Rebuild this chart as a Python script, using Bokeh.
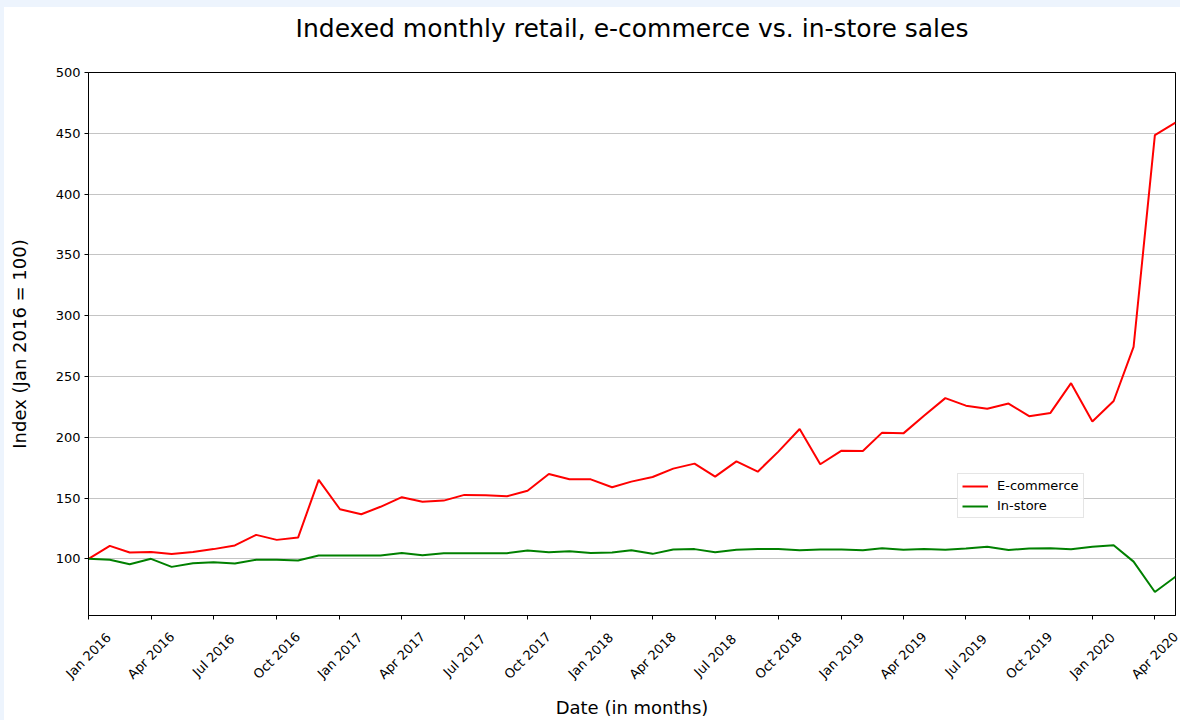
import math
import pandas as pd
from bokeh.plotting import figure
from bokeh.layouts import column
from bokeh.models import (ColumnDataSource, Range1d, FixedTicker, Legend,
                          LegendItem, CustomJSTickFormatter)
from bokeh.core.properties import value
from bokeh.embed import file_html
from bokeh.resources import INLINE

# ---------------- data ----------------
months = pd.date_range("2016-01-01", "2020-05-01", freq="MS")

ecommerce = [
    100.0, 110.7, 105.2, 105.7, 104.0, 105.7, 108.0, 111.0, 119.7, 115.6, 117.5, 165.0,
    140.8, 136.7, 142.8, 150.7, 147.0, 147.9, 152.6, 152.3, 151.5, 156.0, 169.8, 165.4,
    165.4, 158.9, 163.5, 167.3, 174.2, 178.3, 167.6, 180.2, 171.7, 188.2, 206.8, 177.8,
    189.0, 188.7, 203.8, 203.2, 217.7, 232.2, 226.0, 223.4, 227.7, 217.3, 220.0, 244.5,
    213.0, 229.8, 274.4, 448.5, 458.8,
]

instore = [
    100.0, 99.2, 95.6, 100.0, 93.4, 96.4, 97.2, 96.2, 99.2, 99.2, 98.6, 102.7,
    102.7, 102.7, 102.7, 104.9, 103.0, 104.6, 104.6, 104.6, 104.6, 106.8, 105.5, 106.3,
    104.9, 105.2, 107.1, 104.1, 107.7, 108.0, 105.5, 107.4, 108.0, 108.0, 107.1, 107.7,
    107.7, 107.1, 108.8, 107.4, 108.0, 107.4, 108.5, 110.0, 107.3, 108.5, 108.8, 107.9,
    110.0, 111.2, 97.7, 72.7, 85.3,
]

tick_labels = [
    "Jan 2016", "Apr 2016", "Jul 2016", "Oct 2016",
    "Jan 2017", "Apr 2017", "Jul 2017", "Oct 2017",
    "Jan 2018", "Apr 2018", "Jul 2018", "Oct 2018",
    "Jan 2019", "Apr 2019", "Jul 2019", "Oct 2019",
    "Jan 2020", "Apr 2020",
]
y_ticks = [100, 150, 200, 250, 300, 350, 400, 450, 500]

title_text = "Indexed monthly retail, e-commerce vs. in-store sales"
x_title = "Date (in months)"
y_title = "Index (Jan 2016 = 100)"

# ---------------- layout constants ----------------
FONT = "DejaVu Sans"
Y_MIN, Y_MAX = 53.4, 500
W = 1176
B_LEFT, B_RIGHT = 84, 5
FRAME_W, FRAME_H = W - B_LEFT - B_RIGHT, 543
H0 = 55                      # title strip
H1 = 10 + FRAME_H + 10       # main chart
H2 = 95                      # x tick labels + x title


def plain(fig):
    fig.background_fill_color = "white"
    fig.border_fill_color = "white"
    fig.outline_line_color = None
    fig.grid.visible = False


# ---------------- title strip ----------------
p0 = figure(width=W, height=H0, output_backend="svg", toolbar_location=None,
            title=title_text, x_axis_location=None, y_axis_location=None,
            min_border_left=B_LEFT, min_border_right=B_RIGHT,
            min_border_top=0, min_border_bottom=0)
plain(p0)
p0.title.text_font = FONT
p0.title.text_font_size = "25px"
p0.title.text_font_style = "normal"
p0.title.text_color = "black"
p0.title.align = "center"
p0.title.standoff = 9

# ---------------- main chart ----------------
x_start, x_end = months[0], months[-1]
p = figure(width=W, height=H1, x_axis_type="datetime", title=None,
           output_backend="svg", toolbar_location=None,
           x_range=Range1d(x_start, x_end),
           y_range=Range1d(Y_MIN, Y_MAX),
           min_border_left=B_LEFT, min_border_right=B_RIGHT,
           min_border_top=10, min_border_bottom=10)
p.background_fill_color = "white"
p.border_fill_color = "white"
p.outline_line_color = "black"
p.outline_line_width = 1

src = ColumnDataSource(dict(date=months, ecommerce=ecommerce, instore=instore))
r1 = p.line("date", "ecommerce", source=src, line_color="red", line_width=2)
r2 = p.line("date", "instore", source=src, line_color="green", line_width=2)

p.xgrid.visible = False
p.ygrid.grid_line_color = "#c4c4c4"
p.ygrid.grid_line_width = 1
p.ygrid.ticker = FixedTicker(ticks=y_ticks)

p.yaxis.ticker = FixedTicker(ticks=y_ticks)
p.yaxis.axis_label = y_title
p.yaxis.axis_label_text_font = FONT
p.yaxis.axis_label_text_font_size = "18px"
p.yaxis.axis_label_text_font_style = "normal"
p.yaxis.axis_label_text_color = "black"
p.yaxis.axis_label_standoff = 23
p.yaxis.major_label_text_font = FONT
p.yaxis.major_label_text_font_size = "13px"
p.yaxis.major_label_text_color = "black"
p.yaxis.major_label_standoff = 4
p.yaxis.major_tick_out = 4
p.yaxis.major_tick_in = 0
p.yaxis.minor_tick_out = 0
p.yaxis.minor_tick_in = 0
p.yaxis.axis_line_color = "black"
p.yaxis.major_tick_line_color = "black"

tick_dates = pd.to_datetime(tick_labels, format="%b %Y")
tick_ms = [d.timestamp() * 1000 for d in tick_dates]
p.xaxis.ticker = FixedTicker(ticks=tick_ms)
p.xaxis.formatter = CustomJSTickFormatter(code="return '';")
p.xaxis.major_label_text_font_size = "0px"
p.xaxis.major_label_standoff = 0
p.xaxis.major_tick_out = 4
p.xaxis.major_tick_in = 0
p.xaxis.minor_tick_out = 0
p.xaxis.minor_tick_in = 0
p.xaxis.axis_line_color = "black"
p.xaxis.major_tick_line_color = "black"

legend = Legend(items=[LegendItem(label="E-commerce", renderers=[r1]),
                       LegendItem(label="In-store", renderers=[r2])],
                location=(869, 97), orientation="vertical",
                label_text_font=FONT, label_text_font_size="13px", label_text_color="black",
                glyph_width=26, glyph_height=14, label_height=14, label_standoff=9,
                spacing=5, padding=4, margin=0,
                border_line_color="#cccccc", border_line_width=1,
                background_fill_color="white", background_fill_alpha=0.85)
p.add_layout(legend)

# ---------------- x tick labels + x title strip ----------------
x0_ms = x_start.timestamp() * 1000
x1_ms = x_end.timestamp() * 1000
ms_per_px = (x1_ms - x0_ms) / FRAME_W
p2 = figure(width=W, height=H2, output_backend="svg", toolbar_location=None,
            x_axis_location=None, y_axis_location=None,
            x_range=Range1d(x0_ms - B_LEFT * ms_per_px, x1_ms + B_RIGHT * ms_per_px),
            y_range=Range1d(0, H2),
            min_border_left=0, min_border_right=0, min_border_top=0, min_border_bottom=0)
plain(p2)
lab_src = ColumnDataSource(dict(x=tick_ms, y=[H2 - 30] * len(tick_labels), text=tick_labels))
p2.text(x="x", y="y", text="text", source=lab_src, angle=math.pi / 4,
        text_align="center", text_baseline="middle",
        text_font=value(FONT), text_font_size="13px", text_color="black")
p2.text(x=[(x0_ms + x1_ms) / 2], y=[H2 - 82], text=[x_title],
        text_align="center", text_baseline="middle",
        text_font=value(FONT), text_font_size="18px", text_color="black")

layout = column(column(p0, p, spacing=0), column(p2, spacing=0), spacing=0)

html = file_html(layout, INLINE)
style = ("<style>html, body {background-color: white !important;} "
         "body {margin: 0 !important; padding: 0 !important; "
         "border-top: 7px solid #edf4fd !important; border-left: 4px solid #edf4fd !important;}</style>")
html = html.replace("</head>", style + "</head>", 1)
open("out.html", "w").write(html)
